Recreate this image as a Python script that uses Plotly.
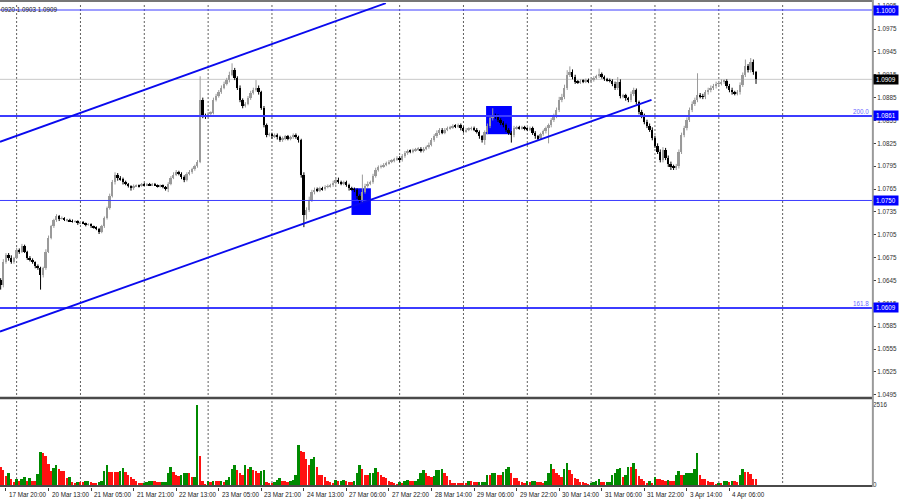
import plotly.graph_objects as go

# ---------------- data (EURUSD H1) ----------------
first_open = 1.0645
closes = [
    1.0639, 1.0669, 1.0679, 1.0675, 1.0669, 1.0675, 1.0685, 1.0683, 1.0690, 1.0683,
    1.0675, 1.0672, 1.0669, 1.0664, 1.0661, 1.0652, 1.0661, 1.0683, 1.0701, 1.0716,
    1.0724, 1.0730, 1.0726, 1.0727, 1.0724, 1.0725, 1.0723, 1.0722, 1.0723, 1.0720,
    1.0722, 1.0720, 1.0718, 1.0719, 1.0716, 1.0714, 1.0713, 1.0709, 1.0716, 1.0727,
    1.0740, 1.0756, 1.0774, 1.0784, 1.0780, 1.0778, 1.0774, 1.0772, 1.0769, 1.0766,
    1.0769, 1.0770, 1.0769, 1.0772, 1.0770, 1.0772, 1.0770, 1.0772, 1.0770, 1.0769,
    1.0770, 1.0768, 1.0765, 1.0772, 1.0780, 1.0784, 1.0787, 1.0785, 1.0781, 1.0777,
    1.0785, 1.0787, 1.0791, 1.0795, 1.0801, 1.0882, 1.0861, 1.0860, 1.0864, 1.0865,
    1.0882, 1.0887, 1.0892, 1.0898, 1.0903, 1.0908, 1.0915, 1.0921, 1.0911, 1.0898,
    1.0882, 1.0874, 1.0877, 1.0884, 1.0891, 1.0895, 1.0898, 1.0892, 1.0872, 1.0849,
    1.0836, 1.0837, 1.0834, 1.0836, 1.0833, 1.0829, 1.0832, 1.0834, 1.0831, 1.0833,
    1.0836, 1.0833, 1.0829, 1.0784, 1.0731, 1.0738, 1.0751, 1.0761, 1.0764, 1.0763,
    1.0766, 1.0765, 1.0768, 1.0769, 1.0770, 1.0773, 1.0777, 1.0774, 1.0772, 1.0774,
    1.0770, 1.0766, 1.0765, 1.0764, 1.0756, 1.0751, 1.0761, 1.0769, 1.0772, 1.0774,
    1.0782, 1.0790, 1.0794, 1.0795, 1.0797, 1.0799, 1.0801, 1.0802, 1.0804, 1.0806,
    1.0803, 1.0808, 1.0812, 1.0815, 1.0814, 1.0816, 1.0817, 1.0818, 1.0815, 1.0818,
    1.0820, 1.0823, 1.0829, 1.0834, 1.0839, 1.0843, 1.0839, 1.0843, 1.0845, 1.0846,
    1.0848, 1.0847, 1.0849, 1.0845, 1.0841, 1.0843, 1.0844, 1.0845, 1.0843, 1.0840,
    1.0834, 1.0829, 1.0840, 1.0848, 1.0858, 1.0861, 1.0860, 1.0856, 1.0852, 1.0849,
    1.0843, 1.0839, 1.0836, 1.0845, 1.0846, 1.0845, 1.0846, 1.0844, 1.0843, 1.0845,
    1.0839, 1.0834, 1.0832, 1.0837, 1.0841, 1.0845, 1.0849, 1.0856, 1.0861, 1.0869,
    1.0882, 1.0886, 1.0898, 1.0915, 1.0919, 1.0912, 1.0906, 1.0905, 1.0907, 1.0906,
    1.0908, 1.0906, 1.0908, 1.0911, 1.0913, 1.0916, 1.0912, 1.0909, 1.0908, 1.0907,
    1.0903, 1.0898, 1.0906, 1.0887, 1.0888, 1.0884, 1.0882, 1.0890, 1.0895, 1.0879,
    1.0866, 1.0861, 1.0853, 1.0848, 1.0843, 1.0832, 1.0822, 1.0814, 1.0803, 1.0816,
    1.0806, 1.0798, 1.0794, 1.0793, 1.0795, 1.0814, 1.0836, 1.0845, 1.0856, 1.0869,
    1.0877, 1.0882, 1.0888, 1.0887, 1.0886, 1.0892, 1.0895, 1.0898, 1.0900, 1.0903,
    1.0904, 1.0906, 1.0907, 1.0900, 1.0895, 1.0892, 1.0891, 1.0892, 1.0902, 1.0915,
    1.0926, 1.0921, 1.0932, 1.0918, 1.0909,
]
# upper / lower wick lengths in pips (0.0001)
wick_up = [
    3, 4, 2, 2, 3, 1, 3, 2, 3, 2, 1, 2, 2, 1, 2, 2, 2, 3, 3, 2,
    2, 2, 1, 2, 1, 1, 1, 2, 1, 1, 1, 1, 1, 1, 1, 1, 2, 1, 2, 2,
    2, 3, 3, 3, 2, 2, 2, 2, 1, 1, 2, 1, 1, 1, 1, 1, 1, 1, 1, 1,
    1, 1, 1, 2, 2, 3, 3, 2, 2, 2, 2, 3, 2, 2, 2, 31, 3, 3, 2, 2,
    3, 3, 3, 3, 3, 3, 4, 9, 3, 2, 3, 2, 2, 3, 3, 3, 10, 3, 2, 2,
    2, 2, 2, 2, 2, 2, 2, 2, 2, 2, 2, 2, 2, 2, 3, 3, 4, 3, 3, 3,
    2, 2, 2, 2, 2, 3, 3, 3, 2, 2, 2, 2, 2, 2, 2, 2, 23, 3, 3, 2,
    3, 3, 2, 2, 2, 2, 2, 2, 2, 2, 2, 3, 3, 2, 2, 2, 2, 2, 2, 2,
    2, 3, 3, 3, 3, 2, 2, 2, 2, 2, 2, 2, 2, 2, 2, 2, 2, 2, 2, 2,
    2, 2, 2, 3, 4, 10, 3, 3, 2, 2, 2, 2, 2, 3, 2, 2, 2, 2, 2, 2,
    2, 2, 2, 2, 2, 2, 2, 2, 3, 3, 4, 4, 4, 6, 7, 3, 3, 2, 2, 2,
    2, 2, 2, 2, 2, 7, 2, 2, 2, 2, 2, 3, 6, 3, 2, 2, 2, 3, 3, 2,
    2, 3, 3, 3, 3, 3, 3, 3, 3, 4, 3, 3, 3, 3, 3, 3, 3, 3, 3, 3,
    3, 3, 29, 3, 3, 3, 3, 3, 3, 3, 3, 3, 2, 2, 3, 3, 2, 3, 3, 3,
    9, 3, 5, 3, 2,
]
wick_dn = [
    6, 3, 2, 4, 2, 2, 2, 3, 2, 2, 3, 2, 2, 3, 2, 19, 3, 2, 2, 2,
    2, 2, 3, 1, 1, 2, 1, 1, 1, 2, 1, 1, 2, 1, 2, 1, 2, 3, 2, 2,
    2, 2, 2, 3, 4, 2, 3, 2, 2, 3, 2, 1, 2, 1, 1, 1, 1, 1, 1, 2,
    2, 2, 2, 4, 2, 2, 2, 2, 3, 3, 2, 2, 2, 2, 2, 2, 3, 3, 2, 2,
    2, 2, 2, 2, 2, 2, 3, 2, 3, 3, 3, 3, 2, 2, 2, 2, 2, 3, 3, 3,
    3, 2, 3, 2, 3, 2, 2, 3, 2, 2, 2, 2, 3, 4, 16, 6, 3, 3, 3, 2,
    2, 2, 2, 2, 2, 2, 2, 2, 2, 2, 2, 3, 2, 3, 4, 4, 3, 2, 2, 2,
    2, 2, 2, 2, 2, 2, 2, 2, 2, 2, 3, 2, 2, 2, 2, 2, 2, 2, 2, 2,
    2, 2, 2, 2, 2, 3, 2, 2, 2, 2, 2, 2, 2, 3, 2, 2, 2, 2, 2, 2,
    3, 3, 6, 3, 3, 3, 3, 3, 3, 3, 3, 3, 10, 3, 2, 2, 2, 2, 2, 2,
    3, 3, 3, 2, 2, 3, 20, 3, 3, 3, 3, 3, 3, 3, 3, 3, 3, 2, 2, 2,
    2, 2, 2, 2, 2, 2, 2, 2, 2, 2, 3, 3, 3, 3, 3, 3, 3, 3, 3, 3,
    3, 3, 3, 3, 3, 3, 3, 3, 3, 3, 3, 4, 4, 3, 3, 3, 3, 3, 3, 3,
    3, 3, 3, 3, 3, 3, 3, 3, 3, 3, 3, 3, 3, 3, 3, 3, 3, 3, 3, 3,
    3, 3, 3, 3, 6,
]
volumes = [
    555, 472, 283, 388, 178, 105, 178, 136, 178, 241,
    136, 210, 136, 130, 346, 1048, 1017, 912, 660, 451,
    524, 618, 514, 451, 440, 210, 262, 94, 73, 105,
    94, 90, 136, 140, 94, 73, 70, 94, 136, 451,
    629, 409, 398, 398, 398, 451, 524, 409, 304, 241,
    178, 136, 73, 42, 73, 94, 115, 126, 115, 84,
    84, 94, 100, 388, 576, 398, 314, 283, 325, 367,
    388, 388, 241, 250, 2516, 912, 136, 10, 136, 84,
    136, 136, 130, 136, 94, 157, 241, 514, 618, 472,
    388, 314, 618, 503, 576, 472, 451, 367, 451, 472,
    94, 73, 52, 94, 157, 210, 136, 115, 105, 136,
    157, 304, 1258, 1069, 1048, 807, 618, 828, 891, 555,
    325, 320, 241, 136, 105, 52, 157, 115, 136, 157,
    115, 105, 100, 136, 388, 618, 514, 325, 320, 367,
    388, 534, 409, 325, 241, 210, 136, 84, 52, 31,
    94, 73, 136, 157, 136, 130, 136, 178, 388, 472,
    367, 283, 262, 283, 472, 480, 490, 367, 283,
    157, 73, 73, 70, 68, 52, 50, 136, 115, 94,
    90, 94, 98, 100, 325, 320, 388, 392, 325, 320,
    419, 514, 576, 388, 210, 205, 136, 94, 52, 115,
    94, 115, 118, 94, 90, 73, 136, 388, 660, 514,
    388, 304, 241, 514, 681, 472, 346, 220, 199, 94,
    90, 73, 31, 52, 94, 136, 178, 94, 90, 94,
    98, 314, 388, 493, 534, 241, 304, 576, 555, 702,
    493, 283, 178, 136, 73, 136, 52, 262, 178, 175,
    157, 136, 157, 115, 110, 325, 430, 304, 325, 367,
    370, 372, 493, 996, 325, 199, 195, 136, 94, 90,
    31, 52, 50, 115, 118, 94, 115, 110, 94, 304,
    514, 409, 405, 346, 199, 180,
]
time_labels = ["17 Mar 04:00", "17 Mar 20:00", "20 Mar 13:00", "21 Mar 05:00", "21 Mar 21:00",
               "22 Mar 13:00", "23 Mar 05:00", "23 Mar 21:00", "24 Mar 13:00", "27 Mar 06:00",
               "27 Mar 22:00", "28 Mar 14:00", "29 Mar 06:00", "29 Mar 22:00", "30 Mar 14:00",
               "31 Mar 06:00", "31 Mar 22:00", "3 Apr 14:00", "4 Apr 06:00"]
time_label_bars = [-14, 2, 18, 34, 50, 66, 82, 98, 114, 130, 146, 162, 178, 194, 210, 226, 242, 258, 274]
grid_bars = [6, 30, 54, 78, 102, 126, 150, 174, 198, 222, 246, 270, 294]
price_ticks = [1.0495, 1.0525, 1.0555, 1.0585, 1.0615, 1.0645, 1.0675, 1.0705, 1.0735,
               1.0765, 1.0795, 1.0825, 1.0855, 1.0885, 1.0915, 1.0945, 1.0975, 1.1005]
levels = [1.1000, 1.0861, 1.0750, 1.0609]
level_widths = [1, 2, 1, 2]
fibo_labels = [("200.0", 1.0861), ("161.8", 1.0609)]
current_price = 1.0909
header_text = "0920 1.0903 1.0909"
# channel lines: (bar, price) end points
upper_channel = [(-0.25, 1.0827), (144.8, 1.1009)]
lower_channel = [(-0.25, 1.0578), (244.7, 1.0882)]
# highlighted zones: (bar0, bar1, price_low, price_high)
zones = [(131.9, 139.2, 1.0731, 1.0766), (182.5, 192.2, 1.0837, 1.0874)]
vol_max = 2516

# ---------------- build candles ----------------
bars = list(range(len(closes)))
opens = [first_open] + closes[:-1]
highs = [max(o, c) + u * 0.0001 for o, c, u in zip(opens, closes, wick_up)]
lows = [min(o, c) - d * 0.0001 for o, c, d in zip(opens, closes, wick_dn)]
vol_colors = ["#ff1010"] + ["#008a00" if volumes[i] > volumes[i - 1] else "#ff1010"
                            for i in range(1, len(volumes))]

BULL, BEAR = "#9a9a9a", "#000000"
MIN_BODY = 0.00005
fig = go.Figure()
for is_bull, col in ((True, BULL), (False, BEAR)):
    idx = [i for i in bars if (closes[i] > opens[i]) == is_bull]
    wx, wy = [], []
    for i in idx:
        wx += [i, i, None]
        wy += [lows[i], highs[i], None]
    fig.add_trace(go.Scatter(x=wx, y=wy, mode="lines", line=dict(color=col, width=1),
                             xaxis="x", yaxis="y", showlegend=False, hoverinfo="skip"))
    base = [min(opens[i], closes[i]) for i in idx]
    height = [max(abs(closes[i] - opens[i]), MIN_BODY) for i in idx]
    fig.add_trace(go.Bar(x=idx, y=height, base=base, width=0.7,
                         marker=dict(color=col, line=dict(width=0)),
                         xaxis="x", yaxis="y", showlegend=False, hoverinfo="skip"))
fig.add_trace(go.Bar(x=bars, y=volumes, marker=dict(color=vol_colors, line=dict(width=0)),
                     width=0.72, xaxis="x", yaxis="y2", showlegend=False, hoverinfo="skip"))

shapes = []
for gb in grid_bars:
    shapes.append(dict(type="line", xref="x", yref="paper", x0=gb, x1=gb, y0=0, y1=1,
                       line=dict(color="#606060", width=1, dash="2px,2px"), layer="below"))
for z in zones:
    shapes.append(dict(type="rect", xref="x", yref="y", x0=z[0], x1=z[1], y0=z[2], y1=z[3],
                       fillcolor="#0000ff", line=dict(width=0), layer="below"))
shapes.append(dict(type="line", xref="paper", yref="y", x0=0, x1=1, y0=current_price, y1=current_price,
                   line=dict(color="#c8c8c8", width=1), layer="below"))
for lv, w in zip(levels, level_widths):
    shapes.append(dict(type="line", xref="paper", yref="y", x0=0, x1=1, y0=lv, y1=lv,
                       line=dict(color="#3c3cff", width=w)))
for ch in (upper_channel, lower_channel):
    shapes.append(dict(type="line", xref="x", yref="y", x0=ch[0][0], y0=ch[0][1], x1=ch[1][0], y1=ch[1][1],
                       line=dict(color="#0a0aee", width=1.8)))
# pane separator, frame
shapes.append(dict(type="line", xref="paper", yref="paper", x0=0, x1=1, y0=0.1839, y1=0.1839,
                   line=dict(color="#4a4a4a", width=2.5)))
shapes.append(dict(type="line", xref="paper", yref="paper", x0=0, x1=1, y0=1.004, y1=1.004,
                   line=dict(color="#4a4a4a", width=1.5)))
shapes.append(dict(type="line", xref="paper", yref="paper", x0=1.001, x1=1.001, y0=0, y1=1.006,
                   line=dict(color="#9a9a9a", width=2)))
shapes.append(dict(type="line", xref="paper", yref="paper", x0=0, x1=1, y0=0.002, y1=0.002,
                   line=dict(color="#4a4a4a", width=2)))

FONT = "Liberation Sans, Arial, sans-serif"
ann = []
for txt, b in zip(time_labels, time_label_bars):
    ann.append(dict(x=b, y=0, xref="x", yref="paper", text=txt, showarrow=False,
                    xanchor="left", yanchor="top", xshift=1, yshift=-2,
                    font=dict(family=FONT, size=6.3, color="#202020")))
for txt, lv in fibo_labels:
    ann.append(dict(x=1, y=lv, xref="paper", yref="y", text=txt, showarrow=False,
                    xanchor="right", yanchor="bottom", xshift=-1, yshift=-1,
                    font=dict(family=FONT, size=6.3, color="#6a6aff")))
for lv in levels:
    ann.append(dict(x=1, y=lv, xref="paper", yref="y", text=f"{lv:.4f}", showarrow=False,
                    xanchor="left", yanchor="middle", xshift=1, bgcolor="#0000ff", borderpad=1,
                    width=22, font=dict(family=FONT, size=6.3, color="#ffffff")))
ann.append(dict(x=1, y=current_price, xref="paper", yref="y", text=f"{current_price:.4f}", showarrow=False,
                xanchor="left", yanchor="middle", xshift=1, bgcolor="#000000", borderpad=1,
                width=22, font=dict(family=FONT, size=6.3, color="#ffffff")))
ann.append(dict(x=0, y=1, xref="paper", yref="paper", text=header_text, showarrow=False,
                xanchor="left", yanchor="top", xshift=-1, yshift=-1,
                font=dict(family=FONT, size=6.3, color="#202020")))

fig.update_layout(
    width=900, height=500, margin=dict(l=0, r=28, t=3, b=13, autoexpand=False),
    paper_bgcolor="#ffffff", plot_bgcolor="#ffffff", showlegend=False,
    shapes=shapes, annotations=ann, bargap=0, barmode="overlay",
    xaxis=dict(range=[-0.25, 327.6], anchor="y2", showgrid=False, zeroline=False,
               showticklabels=False, ticks="outside", tickvals=time_label_bars, ticklen=3,
               tickcolor="#404040", showline=False, automargin=False),
    yaxis=dict(domain=[0.186, 1], range=[1.04921, 1.10092], side="right", anchor="x",
               showgrid=False, zeroline=False, tickvals=price_ticks, automargin=False,
               ticktext=[f"{t:.4f}" for t in price_ticks], ticks="outside", ticklen=3,
               tickcolor="#404040", tickfont=dict(family=FONT, size=6.3, color="#303030")),
    yaxis2=dict(domain=[0, 0.1818], range=[-63, 2705], side="right", anchor="x",
                showgrid=False, zeroline=False, tickvals=[0, vol_max], ticktext=["0", str(vol_max)],
                ticks="", automargin=False, tickfont=dict(family=FONT, size=6.3, color="#303030")),
)
fig.write_html("out.html", config={"displayModeBar": False},
               post_script="document.body.style.margin='0';document.body.style.overflow='hidden';")
